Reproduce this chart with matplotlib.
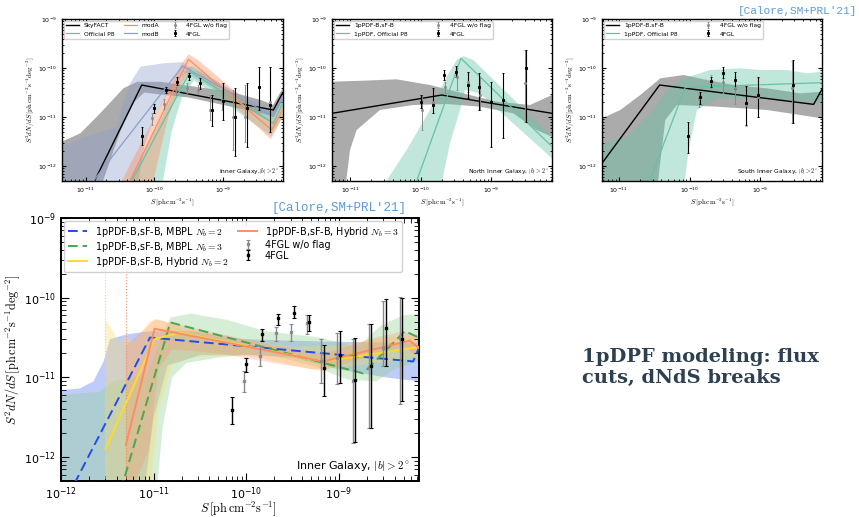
import numpy as np
import matplotlib
matplotlib.use("Agg")
import matplotlib.pyplot as plt

plt.rcParams['mathtext.fontset'] = 'cm'
plt.rcParams['font.family'] = 'DejaVu Sans'

# ---------------- data (log10 values) ----------------
# top-left panel: Inner Galaxy
tl_sky_x = [-10.95, -10.185, -8.266, -8.13]
tl_sky_y = [-12.52, -10.345, -10.854, -10.50]
tl_p8_x = [-10.331, -9.481, -8.266, -8.13]
tl_p8_y = [-12.30, -10.073, -11.126, -10.718]
tl_modA_x = [-10.356, -9.505, -8.29, -8.13]
tl_modA_y = [-12.30, -9.822, -11.26, -10.854]
tl_modB_x = [-10.89, -9.588, -8.266, -8.13]
tl_modB_y = [-12.30, -9.958, -10.99, -10.596]

tl_sky_up_x = [-11.35, -11.08, -10.79, -10.45, -10.25, -9.9, -9.4, -8.9, -8.45, -8.27, -8.13]
tl_sky_up_y = [-11.5, -11.33, -10.92, -10.41, -10.28, -10.28, -10.38, -10.48, -10.65, -10.75, -10.41]
tl_sky_lo_x = [-11.35, -10.8, -10.5, -10.3, -10.15, -9.5, -9.0, -8.5, -8.27, -8.13]
tl_sky_lo_y = [-12.5, -12.5, -11.3, -10.7, -10.5, -10.6, -10.75, -10.9, -10.98, -10.65]
tl_p8_up_x = [-10.45, -10.0, -9.75, -9.55, -9.45, -8.3, -8.13]
tl_p8_up_y = [-12.5, -11.3, -10.6, -10.05, -9.95, -10.98, -10.6]
tl_p8_lo_x = [-9.9, -9.75, -9.6, -9.42, -8.3, -8.13]
tl_p8_lo_y = [-12.5, -11.3, -10.6, -10.25, -11.38, -11.0]
tl_modA_up_x = [-10.55, -10.0, -9.6, -9.5, -9.35, -8.3, -8.13]
tl_modA_up_y = [-12.5, -11.0, -9.9, -9.72, -9.85, -11.1, -10.72]
tl_modA_lo_x = [-10.05, -9.8, -9.6, -9.45, -8.3, -8.13]
tl_modA_lo_y = [-12.5, -11.0, -10.3, -10.0, -11.45, -11.0]
tl_modB_up_x = [-11.35, -11.0, -10.55, -10.45, -10.35, -10.2, -9.85, -9.6, -8.3, -8.13]
tl_modB_up_y = [-11.6, -11.4, -11.2, -10.7, -10.3, -9.97, -9.9, -9.88, -10.88, -10.5]
tl_modB_lo_x = [-11.35, -10.25, -10.15, -10.0, -9.8, -9.55, -8.3, -8.13]
tl_modB_lo_y = [-12.5, -12.5, -11.6, -11.0, -10.5, -10.1, -11.1, -10.72]

tl_fgl_x = [-10.176, -10.006, -9.831, -9.665, -9.495, -9.335, -9.165, -8.995, -8.825, -8.655, -8.475, -8.314]
tl_fgl_y = [-11.384, -10.82, -10.45, -10.28, -10.16, -10.31, -10.85, -10.68, -11.0, -10.82, -10.38, -10.75]
tl_fgl_hi = [-11.21, -10.73, -10.39, -10.18, -10.11, -10.21, -10.55, -10.31, -10.41, -10.31, -9.98, -9.98]
tl_fgl_lo = [-11.57, -10.92, -10.51, -10.34, -10.24, -10.43, -11.19, -11.06, -11.79, -11.60, -10.85, -11.30]
tl_nf_x = [-10.04, -9.86, -9.685, -9.53, -9.36, -9.19, -9.02, -8.85, -8.68, -8.48, -8.32]
tl_nf_y = [-11.02, -10.74, -10.45, -10.41, -10.45, -10.85, -10.65, -11.0, -11.0, -10.38, -10.7]
tl_nf_hi = [-10.92, -10.62, -10.38, -10.31, -10.34, -10.55, -10.45, -10.45, -10.35, -9.98, -9.98]
tl_nf_lo = [-11.16, -10.84, -10.55, -10.51, -10.51, -11.06, -10.85, -11.67, -11.5, -10.85, -11.2]

# top-middle panel: North Inner Galaxy
tm_b_x = [-11.26, -9.703, -8.137]
tm_b_y = [-10.922, -10.549, -10.922]
tm_p8_x = [-10.058, -9.429, -8.137]
tm_p8_y = [-12.30, -9.80, -11.60]
tm_b_up_x = [-11.26, -10.815, -10.342, -9.869, -9.396, -8.922, -8.449, -8.137]
tm_b_up_y = [-10.277, -10.257, -10.229, -10.345, -10.515, -10.684, -10.752, -10.549]
tm_b_lo_x = [-11.26, -11.075, -11.004, -10.91, -10.579, -10.105, -9.632, -9.159, -8.686, -8.355, -8.137]
tm_b_lo_y = [-12.5, -12.5, -11.669, -11.262, -10.854, -10.752, -10.732, -10.786, -10.922, -11.262, -11.40]
tm_p8_up_x = [-10.579, -10.20, -9.869, -9.632, -9.49, -9.396, -9.254, -8.137]
tm_p8_up_y = [-12.5, -11.669, -10.854, -10.175, -9.835, -9.754, -9.835, -11.40]
tm_p8_lo_x = [-9.727, -9.585, -9.443, -9.372, -9.159, -8.137]
tm_p8_lo_y = [-12.5, -11.533, -10.854, -10.447, -10.515, -11.839]

tm_fgl_x = [-10.001, -9.831, -9.665, -9.50, -9.334, -9.168, -9.003, -8.837, -8.506]
tm_fgl_y = [-10.684, -10.752, -10.141, -10.073, -10.345, -10.379, -10.684, -10.650, -10.005]
tm_fgl_hi = [-10.549, -10.413, -10.039, -9.958, -10.073, -10.107, -10.277, -10.107, -9.632]
tm_fgl_lo = [-10.820, -10.922, -10.243, -10.175, -10.617, -10.854, -11.601, -11.431, -11.092]
tm_nf_x = [-9.987, -9.822, -9.656, -9.49, -9.325, -9.159, -8.52]
tm_nf_y = [-10.854, -10.684, -10.379, -10.175, -10.277, -10.549, -10.311]
tm_nf_hi = [-10.549, -10.447, -10.277, -10.005, -10.073, -10.175, -9.632]
tm_nf_lo = [-11.262, -10.922, -10.515, -10.447, -10.481, -10.854, -11.092]

# top-right panel: South Inner Galaxy
tr_b_x = [-11.237, -10.423, -8.249, -8.131]
tr_b_y = [-11.941, -10.345, -10.739, -10.433]
tr_p8_x = [-10.564, -10.061, -8.131]
tr_p8_y = [-12.30, -10.392, -10.297]
tr_b_up_x = [-11.237, -10.978, -10.696, -10.413, -10.084, -9.755, -9.378, -8.908, -8.437, -8.131]
tr_b_up_y = [-11.024, -10.854, -10.549, -10.209, -10.141, -10.243, -10.345, -10.413, -10.515, -10.481]
tr_b_lo_x = [-11.237, -10.461, -10.343, -10.178, -9.613, -8.908, -8.437, -8.131]
tr_b_lo_y = [-12.5, -12.5, -11.058, -10.752, -10.786, -10.854, -10.956, -11.024]
tr_p8_up_x = [-11.237, -10.884, -10.555, -10.319, -10.084, -9.708, -9.284, -9.002, -8.625, -8.343, -8.131]
tr_p8_up_y = [-11.533, -11.398, -10.922, -10.447, -10.209, -10.039, -10.005, -10.039, -10.039, -10.107, -10.073]
tr_p8_lo_x = [-11.237, -10.084, -10.013, -9.896, -9.613, -9.143, -8.672, -8.131]
tr_p8_lo_y = [-12.5, -12.5, -11.669, -10.854, -10.616, -10.616, -10.650, -10.718]

tr_fgl_x = [-10.023, -9.858, -9.693, -9.529, -9.364, -9.2, -9.035, -8.540]
tr_fgl_y = [-11.384, -10.596, -10.257, -10.094, -10.243, -10.718, -10.549, -10.345]
tr_fgl_hi = [-11.092, -10.481, -10.175, -9.985, -10.073, -10.365, -10.175, -9.835]
tr_fgl_lo = [-11.737, -10.739, -10.379, -10.209, -10.426, -11.160, -11.004, -11.126]
tr_nf_x = [-9.868, -9.703, -9.529, -9.355, -9.204, -9.039, -8.550]
tr_nf_y = [-10.616, -10.277, -10.277, -10.413, -10.752, -10.583, -10.413]
tr_nf_hi = [-10.501, -10.141, -10.039, -10.175, -10.379, -10.209, -9.849]
tr_nf_lo = [-10.786, -10.413, -10.501, -10.732, -11.180, -10.990, -11.126]

# bottom panel: Inner Galaxy, breaks
bt_blue_x = [-12.0, -11.04, -8.20, -8.138]
bt_blue_y = [-12.66, -10.50, -10.80, -10.63]
bt_green_x = [-11.45, -10.82, -8.74, -8.29, -8.138]
bt_green_y = [-12.79, -10.31, -10.95, -10.42, -10.50]
bt_yel_x = [-11.52, -10.99, -10.72, -9.17, -8.138]
bt_yel_y = [-11.90, -10.52, -10.44, -10.80, -10.62]
bt_org_x = [-11.30, -10.99, -9.17, -8.24, -8.138]
bt_org_y = [-11.85, -10.39, -10.80, -10.54, -10.63]

bt_blue_up_x = [-12.0, -11.8, -11.65, -11.54, -11.47, -11.29, -11.04, -10.58, -10.04, -9.2, -8.138]
bt_blue_up_y = [-11.16, -11.14, -11.05, -10.80, -10.52, -10.46, -10.42, -10.42, -10.52, -10.55, -10.57]
bt_blue_lo_x = [-12.0, -11.12, -11.0, -10.85, -10.5, -10.0, -9.5, -9.0, -8.5, -8.138]
bt_blue_lo_y = [-12.6, -12.6, -11.5, -10.85, -10.72, -10.72, -10.75, -10.9, -11.0, -11.05]
bt_green_up_x = [-12.0, -11.58, -11.44, -11.07, -10.95, -10.82, -10.6, -10.2, -9.8, -9.2, -8.8, -8.55, -8.3, -8.138]
bt_green_up_y = [-11.22, -11.18, -11.05, -10.96, -10.6, -10.25, -10.2, -10.28, -10.42, -10.5, -10.62, -10.35, -10.22, -10.2]
bt_green_lo_x = [-12.0, -10.98, -10.9, -10.8, -10.65, -10.3, -9.8, -9.3, -8.9, -8.6, -8.4, -8.138]
bt_green_lo_y = [-12.6, -12.6, -11.6, -11.0, -10.82, -10.75, -10.7, -10.85, -11.03, -11.05, -10.9, -10.8]
bt_yel_up_x = [-11.52, -11.45, -11.38, -11.3, -11.2, -11.05, -10.95, -10.7, -10.2, -9.5, -9.0, -8.5, -8.138]
bt_yel_up_y = [-10.27, -10.40, -10.55, -10.50, -10.55, -10.3, -10.27, -10.38, -10.50, -10.62, -10.60, -10.5, -10.48]
bt_yel_lo_x = [-11.52, -11.05, -10.95, -10.8, -10.6, -10.0, -9.3, -8.8, -8.138]
bt_yel_lo_y = [-12.6, -12.6, -11.4, -10.85, -10.75, -10.72, -10.9, -10.85, -10.75]
bt_org_up_x = [-11.3, -11.1, -10.99, -10.8, -10.3, -9.7, -9.17, -8.6, -8.3, -8.138]
bt_org_up_y = [-10.6, -10.4, -10.27, -10.32, -10.45, -10.6, -10.7, -10.5, -10.42, -10.5]
bt_org_lo_x = [-11.3, -11.05, -10.95, -10.8, -10.3, -9.7, -9.17, -8.6, -8.3, -8.138]
bt_org_lo_y = [-12.6, -11.9, -10.9, -10.65, -10.7, -10.82, -10.92, -10.7, -10.62, -10.75]
bt_cut_yel = 3e-12
bt_cut_org = 5e-12

bt_fgl_x = [-10.16, -10.00, -9.83, -9.66, -9.49, -9.32, -9.16, -8.99, -8.83, -8.66, -8.49, -8.32]
bt_fgl_y = [-11.41, -10.83, -10.45, -10.26, -10.19, -10.31, -10.88, -10.72, -11.03, -10.86, -10.38, -10.52]
bt_fgl_hi = [-11.25, -10.76, -10.39, -10.20, -10.11, -10.22, -10.59, -10.42, -10.50, -10.33, -10.02, -10.00]
bt_fgl_lo = [-11.59, -10.93, -10.54, -10.34, -10.26, -10.42, -11.23, -11.07, -11.81, -11.63, -10.86, -11.30]
bt_nf_x = [-10.02, -9.85, -9.68, -9.52, -9.35, -9.19, -9.02, -8.85, -8.68, -8.52, -8.34]
bt_nf_y = [-11.05, -10.73, -10.44, -10.43, -10.32, -10.80, -10.76, -11.05, -10.88, -10.63, -10.50]
bt_nf_hi = [-10.92, -10.61, -10.37, -10.33, -10.22, -10.52, -10.44, -10.52, -10.33, -10.04, -9.99]
bt_nf_lo = [-11.18, -10.86, -10.54, -10.54, -10.45, -11.07, -11.08, -11.83, -11.63, -10.86, -11.33]


def p(v):
    return 10 ** np.array(v, dtype=float)


def band(ax, ux, uy, lx, ly, color, alpha, z=1):
    xs = np.concatenate([p(ux), p(lx)[::-1]])
    ys = np.concatenate([p(uy), p(ly)[::-1]])
    ax.fill(xs, ys, color=color, alpha=alpha, lw=0, zorder=z)


def points(ax, x, y, lo, hi, color, label, ms, lw, cap):
    y_ = p(y)
    err = [y_ - p(lo), p(hi) - y_]
    return ax.errorbar(p(x), y_, yerr=err, fmt='s', color=color, ms=ms, elinewidth=lw,
                       capsize=cap, capthick=lw * 0.8, label=label, zorder=6)


def style(ax, xlim, fs, tl, small=True):
    ax.set_xscale('log')
    ax.set_yscale('log')
    ax.set_xlim(*xlim)
    ax.set_ylim(5e-13, 1e-9)
    ax.tick_params(which='both', direction='in', top=True, right=True, labelsize=fs)
    ax.tick_params(which='major', length=tl, width=0.8)
    ax.tick_params(which='minor', length=tl * 0.55, width=0.6)
    for s in ax.spines.values():
        s.set_linewidth(1.0 if small else 1.4)


ylab = r'$S^2dN/dS\,[\mathrm{ph\,cm^{-2}s^{-1}deg^{-2}}]$'
xlab = r'$S\,[\mathrm{ph\,cm^{-2}s^{-1}}]$'

fig = plt.figure(figsize=(8.59, 5.17), dpi=100)

GRAY_B = '#9c9c9c'
TEAL = '#66c2a5'
ORANGE = '#fc8d62'
LAV = '#8da0cb'

# ---- top-left
ax = fig.add_axes([0.0722, 0.6499, 0.2573, 0.3133])
band(ax, tl_sky_up_x, tl_sky_up_y, tl_sky_lo_x, tl_sky_lo_y, GRAY_B, 0.85)
band(ax, tl_modB_up_x, tl_modB_up_y, tl_modB_lo_x, tl_modB_lo_y, LAV, 0.4)
band(ax, tl_p8_up_x, tl_p8_up_y, tl_p8_lo_x, tl_p8_lo_y, TEAL, 0.4)
band(ax, tl_modA_up_x, tl_modA_up_y, tl_modA_lo_x, tl_modA_lo_y, ORANGE, 0.4)
ax.plot(p(tl_sky_x), p(tl_sky_y), color='k', lw=1.0, label='SkyFACT', zorder=4)
ax.plot(p(tl_p8_x), p(tl_p8_y), color=TEAL, lw=0.9, label='Official P8', zorder=4)
ax.plot(p(tl_modA_x), p(tl_modA_y), color=ORANGE, lw=0.9, label='modA', zorder=4)
ax.plot(p(tl_modB_x), p(tl_modB_y), color=LAV, lw=0.9, label='modB', zorder=4)
points(ax, tl_nf_x, tl_nf_y, tl_nf_lo, tl_nf_hi, '#8a8a8a', '4FGL w/o flag', 1.0, 0.7, 0.8)
points(ax, tl_fgl_x, tl_fgl_y, tl_fgl_lo, tl_fgl_hi, 'k', '4FGL', 1.2, 0.8, 0.8)
style(ax, (4.5e-12, 7.5e-9), 4.5, 3)
ax.set_ylabel(ylab, fontsize=5, labelpad=1)
ax.set_xlabel(xlab, fontsize=5, labelpad=1)
ax.legend(ncol=3, loc='upper left', fontsize=4.3, frameon=True, handlelength=2.2,
          borderaxespad=0.3, columnspacing=1.5, labelspacing=0.5, framealpha=0.9, edgecolor='#cccccc')
ax.text(0.985, 0.03, r'Inner Galaxy,$|b|>2^\circ$', transform=ax.transAxes, fontsize=4.3,
        ha='right', va='bottom')

# ---- top-middle
ax = fig.add_axes([0.3865, 0.6499, 0.2561, 0.3133])
band(ax, tm_b_up_x, tm_b_up_y, tm_b_lo_x, tm_b_lo_y, GRAY_B, 0.85)
band(ax, tm_p8_up_x, tm_p8_up_y, tm_p8_lo_x, tm_p8_lo_y, TEAL, 0.4)
ax.plot(p(tm_b_x), p(tm_b_y), color='k', lw=1.0, label='1pPDF-B,sF-B', zorder=4)
ax.plot(p(tm_p8_x), p(tm_p8_y), color=TEAL, lw=0.9, label='1pPDF, Official P8', zorder=4)
points(ax, tm_nf_x, tm_nf_y, tm_nf_lo, tm_nf_hi, '#8a8a8a', '4FGL w/o flag', 1.0, 0.7, 0.8)
points(ax, tm_fgl_x, tm_fgl_y, tm_fgl_lo, tm_fgl_hi, 'k', '4FGL', 1.2, 0.8, 0.8)
style(ax, (5.5e-12, 7.3e-9), 4.5, 3)
ax.set_ylabel(ylab, fontsize=5, labelpad=1)
ax.set_xlabel(xlab, fontsize=5, labelpad=1)
ax.legend(ncol=2, loc='upper left', fontsize=4.3, frameon=True, handlelength=2.2,
          borderaxespad=0.3, columnspacing=4.0, labelspacing=0.5, framealpha=0.9, edgecolor='#cccccc')
ax.text(0.985, 0.03, r'North Inner Galaxy, $|b|>2^\circ$', transform=ax.transAxes, fontsize=4.3,
        ha='right', va='bottom')

# ---- top-right
ax = fig.add_axes([0.7008, 0.6499, 0.2561, 0.3133])
band(ax, tr_b_up_x, tr_b_up_y, tr_b_lo_x, tr_b_lo_y, GRAY_B, 0.85)
band(ax, tr_p8_up_x, tr_p8_up_y, tr_p8_lo_x, tr_p8_lo_y, TEAL, 0.4)
ax.plot(p(tr_b_x), p(tr_b_y), color='k', lw=1.0, label='1pPDF-B,sF-B', zorder=4)
ax.plot(p(tr_p8_x), p(tr_p8_y), color=TEAL, lw=0.9, label='1pPDF, Official P8', zorder=4)
points(ax, tr_nf_x, tr_nf_y, tr_nf_lo, tr_nf_hi, '#8a8a8a', '4FGL w/o flag', 1.0, 0.7, 0.8)
points(ax, tr_fgl_x, tr_fgl_y, tr_fgl_lo, tr_fgl_hi, 'k', '4FGL', 1.2, 0.8, 0.8)
style(ax, (5.8e-12, 7.4e-9), 4.5, 3)
ax.set_ylabel(ylab, fontsize=5, labelpad=1)
ax.set_xlabel(xlab, fontsize=5, labelpad=1)
ax.legend(ncol=2, loc='upper left', fontsize=4.3, frameon=True, handlelength=2.2,
          borderaxespad=0.3, columnspacing=4.0, labelspacing=0.5, framealpha=0.9, edgecolor='#cccccc')
ax.text(0.985, 0.03, r'South Inner Galaxy, $|b|>2^\circ$', transform=ax.transAxes, fontsize=4.3,
        ha='right', va='bottom')

# ---- bottom big panel
ax = fig.add_axes([0.0710, 0.0696, 0.4168, 0.5087])
band(ax, bt_blue_up_x, bt_blue_up_y, bt_blue_lo_x, bt_blue_lo_y, '#6f8ff2', 0.45)
band(ax, bt_green_up_x, bt_green_up_y, bt_green_lo_x, bt_green_lo_y, '#8fcf8a', 0.35)
band(ax, bt_yel_up_x, bt_yel_up_y, bt_yel_lo_x, bt_yel_lo_y, '#ffd966', 0.35)
band(ax, bt_org_up_x, bt_org_up_y, bt_org_lo_x, bt_org_lo_y, ORANGE, 0.28)
ax.axvline(bt_cut_yel, color='#ffd92f', ls=':', lw=0.8, zorder=2)
ax.axvline(bt_cut_org, color=ORANGE, ls=':', lw=0.8, zorder=2)
ax.plot(p(bt_blue_x), p(bt_blue_y), color='#1f4fe6', lw=1.4, ls=(0, (5, 2.5)),
        label=r'1pPDF-B,sF-B, MBPL $N_b=2$', zorder=4)
ax.plot(p(bt_green_x), p(bt_green_y), color='#4aa84a', lw=1.4, ls=(0, (5, 2.5)),
        label=r'1pPDF-B,sF-B, MBPL $N_b=3$', zorder=4)
ax.plot(p(bt_yel_x), p(bt_yel_y), color='#ffd92f', lw=1.4,
        label=r'1pPDF-B,sF-B, Hybrid $N_b=2$', zorder=4)
ax.plot(p(bt_org_x), p(bt_org_y), color=ORANGE, lw=1.4,
        label=r'1pPDF-B,sF-B, Hybrid $N_b=3$', zorder=4)
points(ax, bt_nf_x, bt_nf_y, bt_nf_lo, bt_nf_hi, '#8a8a8a', '4FGL w/o flag', 1.5, 1.0, 1.5)
points(ax, bt_fgl_x, bt_fgl_y, bt_fgl_lo, bt_fgl_hi, 'k', '4FGL', 1.8, 1.0, 1.5)
style(ax, (1e-12, 7.3e-9), 8, 6, small=False)
ax.set_ylabel(ylab, fontsize=8.8)
ax.set_xlabel(xlab, fontsize=8.8)
ax.yaxis.set_label_coords(-0.108, 0.5)
ax.xaxis.set_label_coords(0.497, -0.068)
ax.legend(ncol=2, loc='upper left', fontsize=6.9, frameon=True, handlelength=2.0,
          borderaxespad=0.35, columnspacing=1.0, labelspacing=0.1, borderpad=0.35,
          framealpha=0.9, edgecolor='#cccccc')
ax.text(0.975, 0.03, r'Inner Galaxy, $|b|>2^\circ$', transform=ax.transAxes, fontsize=8,
        ha='right', va='bottom')

# ---- slide texts
fig.text(0.998, 0.978, "[Calore,SM+PRL'21]", family='Liberation Mono', fontsize=8,
         color='#5b9bd5', ha='right', va='center')
fig.text(0.395, 0.598, "[Calore,SM+PRL'21]", family='Liberation Mono', fontsize=9,
         color='#5b9bd5', ha='center', va='center')
fig.text(0.677, 0.289, "1pDPF modeling: flux\ncuts, dNdS breaks", family='DejaVu Serif',
         fontweight='bold', fontsize=14, color='#2e4050', ha='left', va='center',
         linespacing=1.2)

fig.savefig('out.png', dpi=100)
